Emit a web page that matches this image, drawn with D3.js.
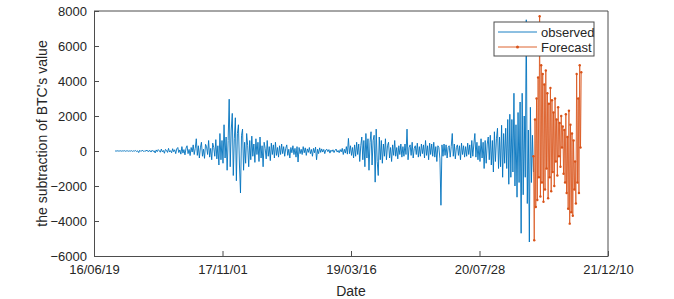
<!DOCTYPE html>
<html>
<head>
<meta charset="utf-8">
<script src="https://cdn.jsdelivr.net/npm/d3@7"></script>
<style>
  body { margin: 0; background: #fff; }
  text { font-family: "Liberation Sans", Arial, sans-serif; fill: #262626; }
</style>
</head>
<body>
<div id="chart"></div>
<script>
// Chart data (observed series sampled every 4 days, forecast every 3 days)
var observedStart = "2016-09-09";
var observedStepDays = 4;
var observed = [
  5, -8, 12, 0, -5, 15, -10, 8, -3, 20, -15, 6, 10, -12, 4, -6, 18, -20, 9, -4,
  25, -30, 10, -90, 40, -20, 15, 35, -40, 20, -10, 55, -35, 0, 30, -60, 45, -25, 12, -110,
  60, -40, 80, 20, -70, 110, -50, 30, -130, 90, 40, -80, 150, -60, 20, -100, 130, -40, 70, -150,
  120, 200, -90, 60, -180, 250, -120, 80, -220, 160, 300, -150, 90, -260, 200, -60, 350, -200, 150, 700,
  -250, 300, -400, 180, 500, -300, 100, -420, 380, 250, -200, 600, -350, 150, -500, 450, 200, -300, 650, -450,
  300, -800, 1000, -500, 600, -700, 1500, -400, 800, -1100, 600, 2960, -900, 1200, 2150, -1400, 700, 1900, -1700, 1000,
  1500, -800, -2400, 900, 1250, -1100, 500, -700, 1000, 300, -900, 600, -500, 850, -300, 400, -650, 700, -200, 500,
  -600, 800, -400, 300, -900, 500, 150, -450, 600, -300, 250, -550, 450, -200, 350, -400, 500, -250, 200, -350,
  300, -200, 400, -150, 250, -300, 150, 350, -250, 100, -400, 200, -100, 300, -200, 150, -350, 250, -630, 200,
  -150, 100, -200, 250, -100, 180, -250, 120, -80, 200, -150, 90, -300, 150, -100, 220, -500, 100, -150, 180,
  -80, 120, -60, 90, -150, 60, 100, -40, 80, -120, 50, -30, 70, -90, 40, 110, -60, 30, -100, 80,
  -50, 150, -200, 100, -120, 250, -180, 720, -150, 300, -250, 200, -400, 350, -300, 500, -200, 400, -600, 300,
  800, -500, 600, -900, 1000, -400, 700, -1100, 500, 1100, -800, 600, 900, -1780, 1250, -600, -1400, 800, -500, 600,
  -700, 400, -300, 700, -500, 300, 500, -400, 200, -600, 350, -250, 600, -300, 200, -450, 300, -200, 400, -350,
  250, -300, 400, -200, 1250, -500, 200, 350, -250, 500, -400, 150, 300, -200, 450, -350, 250, -300, 400, -150,
  350, -400, 600, -250, 300, -500, 450, -200, 400, -300, 500, -350, 250, -600, 300, 200, -450, -3100, 350, -300,
  400, -250, 350, -400, 200, 300, -350, 250, 1000, -300, 400, -450, 200, 350, -250, 300, -500, 450, -200, 300,
  -350, 250, -300, 450, -200, 350, -400, 600, -300, 400, 1000, -350, 500, -500, 300, -600, 700, -400, 500, -1000,
  600, -700, 400, 800, -500, 900, -800, 600, -1200, 1100, -600, 700, 1300, -1000, 800, -900, 1470, -1500, 1000, -700,
  1300, -1000, 1800, -1900, 2100, -1500, 1800, -1200, 3300, -2000, 1500, -2640, 2200, -1800, 2800, -4700, 3300, -2500, 2000, -1500,
  7500, -3000, 1200, -5200, 2500, -1800, 900, -1200
];
var forecastStepDays = 3;
var forecast = [
  -300, -5100, 1800, -3200, 3000, -2800, 4200, -1500, 7700, -2600,
  4900, -1800, 4400, -2900, 3800, -2200, 4600, -1000, 3300, -2700,
  2700, -1500, 3600, -2300, 2900, -1200, 2200, -2000, 3000, -600,
  1800, -1400, 2500, -300, 1600, -900, 2000, 200, 1400, -1300,
  1200, -1800, 2100, -2400, 800, -3300, 2300, -4150, 1500, -3500,
  1000, -3700, 600, -2200, -600, -3000, 4400, -1800, 3000, -2400,
  4900, 200, 4500
];
var xTickLabels = ["2016-06-19", "2017-11-01", "2019-03-16", "2020-07-28", "2021-12-10"];
var yTicks = [-6000, -4000, -2000, 0, 2000, 4000, 6000, 8000];
var seriesNames = ["observed", "Forecast"];

var svgWidth = 674, svgHeight = 299;
var plot = { left: 94, right: 608, top: 11, bottom: 256 };
var blue = "#0072BD", orange = "#D95319", axisColor = "#4d4d4d";

var parse = d3.timeParse("%Y-%m-%d");
var fmt = d3.timeFormat("%y/%m/%d");
var xTicks = xTickLabels.map(parse);

var t0 = parse(observedStart);
var obsData = observed.map(function(v, i) {
  return { date: d3.timeDay.offset(t0, i * observedStepDays), value: v };
});
var tEnd = obsData[obsData.length - 1].date;
var fcData = forecast.map(function(v, i) {
  return { date: d3.timeDay.offset(tEnd, i * forecastStepDays), value: v };
});

var svg = d3.select("#chart").append("svg")
  .attr("width", svgWidth)
  .attr("height", svgHeight);

var x = d3.scaleTime()
  .domain([xTicks[0], xTicks[xTicks.length - 1]])
  .range([plot.left, plot.right]);
var y = d3.scaleLinear()
  .domain([-6000, 8000])
  .range([plot.bottom, plot.top]);

// Lines
var line = d3.line().x(d => x(d.date)).y(d => y(d.value));

svg.append("path")
  .datum(obsData)
  .attr("fill", "none")
  .attr("stroke", blue)
  .attr("stroke-width", 0.9)
  .attr("d", line);

svg.append("path")
  .datum(fcData)
  .attr("fill", "none")
  .attr("stroke", orange)
  .attr("stroke-width", 0.8)
  .attr("d", line);

svg.append("g").selectAll("circle")
  .data(fcData)
  .enter()
  .append("circle")
  .attr("cx", d => x(d.date))
  .attr("cy", d => y(d.value))
  .attr("r", 1.2)
  .attr("fill", orange);

// Axes (MATLAB style: ticks inward, full box)
var xAxis = svg.append("g")
  .attr("transform", `translate(0, ${plot.bottom})`)
  .call(d3.axisBottom(x).tickValues(xTicks).tickFormat(fmt).tickSizeInner(-5).tickSizeOuter(0).tickPadding(9));
var yAxis = svg.append("g")
  .attr("transform", `translate(${plot.left}, 0)`)
  .call(d3.axisLeft(y).tickValues(yTicks).tickFormat(d3.format("d")).tickSizeInner(-5).tickSizeOuter(0).tickPadding(7));

[xAxis, yAxis].forEach(function(g) {
  g.select(".domain").attr("stroke", axisColor);
  g.selectAll(".tick line").attr("stroke", axisColor);
  g.selectAll(".tick text")
    .attr("fill", "#262626")
    .style("font-size", "13px")
    .style("font-family", "'Liberation Sans', Arial, sans-serif");
});

// Top and right box edges
svg.append("line")
  .attr("x1", plot.left).attr("x2", plot.right)
  .attr("y1", plot.top).attr("y2", plot.top)
  .attr("stroke", axisColor);
svg.append("line")
  .attr("x1", plot.right).attr("x2", plot.right)
  .attr("y1", plot.top).attr("y2", plot.bottom)
  .attr("stroke", axisColor);

// Axis labels
svg.append("text")
  .attr("x", (plot.left + plot.right) / 2)
  .attr("y", 296)
  .attr("text-anchor", "middle")
  .style("font-size", "14px")
  .text("Date");

svg.append("text")
  .attr("transform", `translate(47, ${(plot.top + plot.bottom) / 2}) rotate(-90)`)
  .attr("text-anchor", "middle")
  .style("font-size", "14px")
  .text("the subtraction of BTC's value");

// Legend
var legend = svg.append("g").attr("transform", "translate(494, 22)");
legend.append("rect")
  .attr("width", 100).attr("height", 34)
  .attr("fill", "#fff")
  .attr("stroke", axisColor);
var legendColors = [blue, orange];
seriesNames.forEach(function(name, i) {
  var ly = 10 + i * 15;
  legend.append("line")
    .attr("x1", 4).attr("x2", 43)
    .attr("y1", ly).attr("y2", ly)
    .attr("stroke", legendColors[i])
    .attr("stroke-width", 0.9);
  if (i === 1) {
    legend.append("circle")
      .attr("cx", 23.5).attr("cy", ly).attr("r", 1.5)
      .attr("fill", orange);
  }
  legend.append("text")
    .attr("x", 47).attr("y", ly + 4.5)
    .style("font-size", "13px")
    .text(name);
});
</script>
</body>
</html>
